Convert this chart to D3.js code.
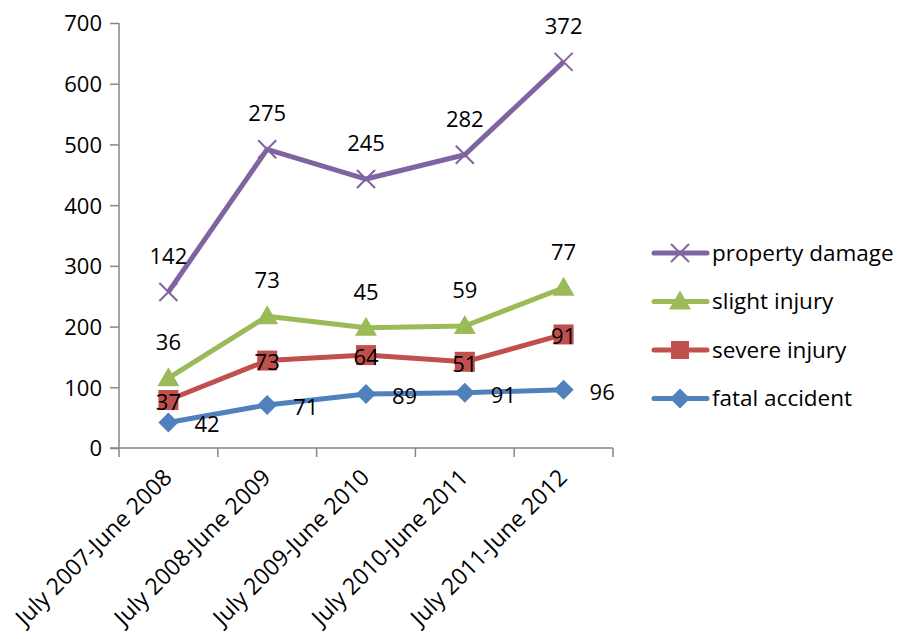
<!DOCTYPE html>
<html><head><meta charset="utf-8">
<script src="https://cdn.jsdelivr.net/npm/d3@7"></script>
<style>body{margin:0;background:#fff}svg{display:block}text{font-family:"Open Sans",sans-serif;fill:#000}</style>
</head><body><svg id="c" width="900" height="639"></svg>
<script>
const categories = ["July 2007-June 2008","July 2008-June 2009","July 2009-June 2010","July 2010-June 2011","July 2011-June 2012"];
const fatalAccident = [42,71,89,91,96];
const severeInjury = [37,73,64,51,91];
const slightInjury = [36,73,45,59,77];
const propertyDamage = [142,275,245,282,372];
const yTicks = [0,100,200,300,400,500,600,700];
const seriesNames = ["fatal accident","severe injury","slight injury","property damage"];
const seriesColors = ["#4F81BD","#C0504D","#9BBB59","#8064A2"];
const seriesMarkers = ["diamond","square","triangle","x"];
const labelPos = ["right","center","above","above"];

const svg = d3.select("#c");
const L=119, R=613, T=23, B=448;
const x = d3.scaleBand().domain(categories).range([L,R]);
const y = d3.scaleLinear().domain([0,700]).range([B,T]);
const cx = c => x(c)+x.bandwidth()/2;

// axes
const gy = svg.append("g").attr("transform",`translate(${L},0)`).call(d3.axisLeft(y).tickValues(yTicks).tickSize(9).tickPadding(8));
const gx = svg.append("g").attr("transform",`translate(0,${B})`).call(d3.axisBottom(x).tickSize(9).tickFormat(""));
gx.selectAll(".tick").remove();
const bounds = categories.map(c=>x(c)).concat([R]);
gx.selectAll("line.b").data(bounds).enter().append("line").attr("x1",d=>d).attr("x2",d=>d).attr("y1",0).attr("y2",9);
[gy,gx].forEach(g=>{g.selectAll("line").attr("stroke","#868686").attr("stroke-width",1.5);});
gy.select(".domain").remove(); gx.select(".domain").remove();
svg.append("line").attr("x1",L).attr("x2",L).attr("y1",T).attr("y2",B).attr("stroke","#868686").attr("stroke-width",1.5);
svg.append("line").attr("x1",L-9).attr("x2",R).attr("y1",B).attr("y2",B).attr("stroke","#868686").attr("stroke-width",1.5);
gy.selectAll("text").style("font-size","22px").attr("dy","0.36em");

// x labels
svg.append("g").selectAll("text").data(categories).enter().append("text")
  .attr("transform",d=>`translate(${cx(d)-1},${B+25}) rotate(-45)`)
  .attr("text-anchor","end").attr("dy","0.36em").style("font-size","23px").text(d=>d);

// stacked
const raw = [fatalAccident,severeInjury,slightInjury,propertyDamage];
const stacked = []; let acc=[0,0,0,0,0];
raw.forEach(s=>{acc=acc.map((a,i)=>a+s[i]); stacked.push(acc.slice());});

function marker(g,type,color,px,py,s){
  if(type==="diamond") g.append("path").attr("d",`M${px},${py-10}L${px+10},${py}L${px},${py+10}L${px-10},${py}Z`).attr("fill",color);
  else if(type==="square") g.append("rect").attr("x",px-s).attr("y",py-s).attr("width",2*s).attr("height",2*s).attr("fill",color);
  else if(type==="triangle") g.append("path").attr("d",`M${px},${py-11}L${px+11},${py+8}L${px-11},${py+8}Z`).attr("fill",color);
  else g.append("path").attr("d",`M${px-9},${py-9}L${px+9},${py+9}M${px+9},${py-9}L${px-9},${py+9}`).attr("stroke",color).attr("stroke-width",2).attr("fill","none");
}
const line = d3.line().x((d,i)=>cx(categories[i])).y(d=>y(d));
[3,2,1,0].forEach(k=>{
  const g = svg.append("g");
  g.append("path").datum(stacked[k]).attr("d",line).attr("fill","none").attr("stroke",seriesColors[k]).attr("stroke-width",5).attr("stroke-linejoin","round");
  stacked[k].forEach((v,i)=>marker(g,seriesMarkers[k],seriesColors[k],cx(categories[i]),y(v),10));
});
// labels
[0,1,2,3].forEach(k=>{
  stacked[k].forEach((v,i)=>{
    const px=cx(categories[i]), py=y(v);
    const t=svg.append("text").style("font-size","22px").attr("dy","0.36em").text(raw[k][i]);
    if(labelPos[k]==="right") t.attr("x",px+26).attr("y",py+2);
    else if(labelPos[k]==="center") t.attr("x",px).attr("y",py+2).attr("text-anchor","middle");
    else t.attr("x",px).attr("y",py-36).attr("text-anchor","middle");
  });
});

// legend
const legOrder=[3,2,1,0];
const lg = svg.append("g");
legOrder.forEach((k,j)=>{
  const ly=253+j*48.5;
  lg.append("line").attr("x1",654).attr("x2",707).attr("y1",ly).attr("y2",ly).attr("stroke",seriesColors[k]).attr("stroke-width",5).attr("stroke-linecap","round");
  marker(lg,seriesMarkers[k],seriesColors[k],680,ly,9);
  lg.append("text").attr("x",712).attr("y",ly).attr("dy","0.34em").style("font-size","22.5px").text(seriesNames[k]);
});
</script></body></html>
